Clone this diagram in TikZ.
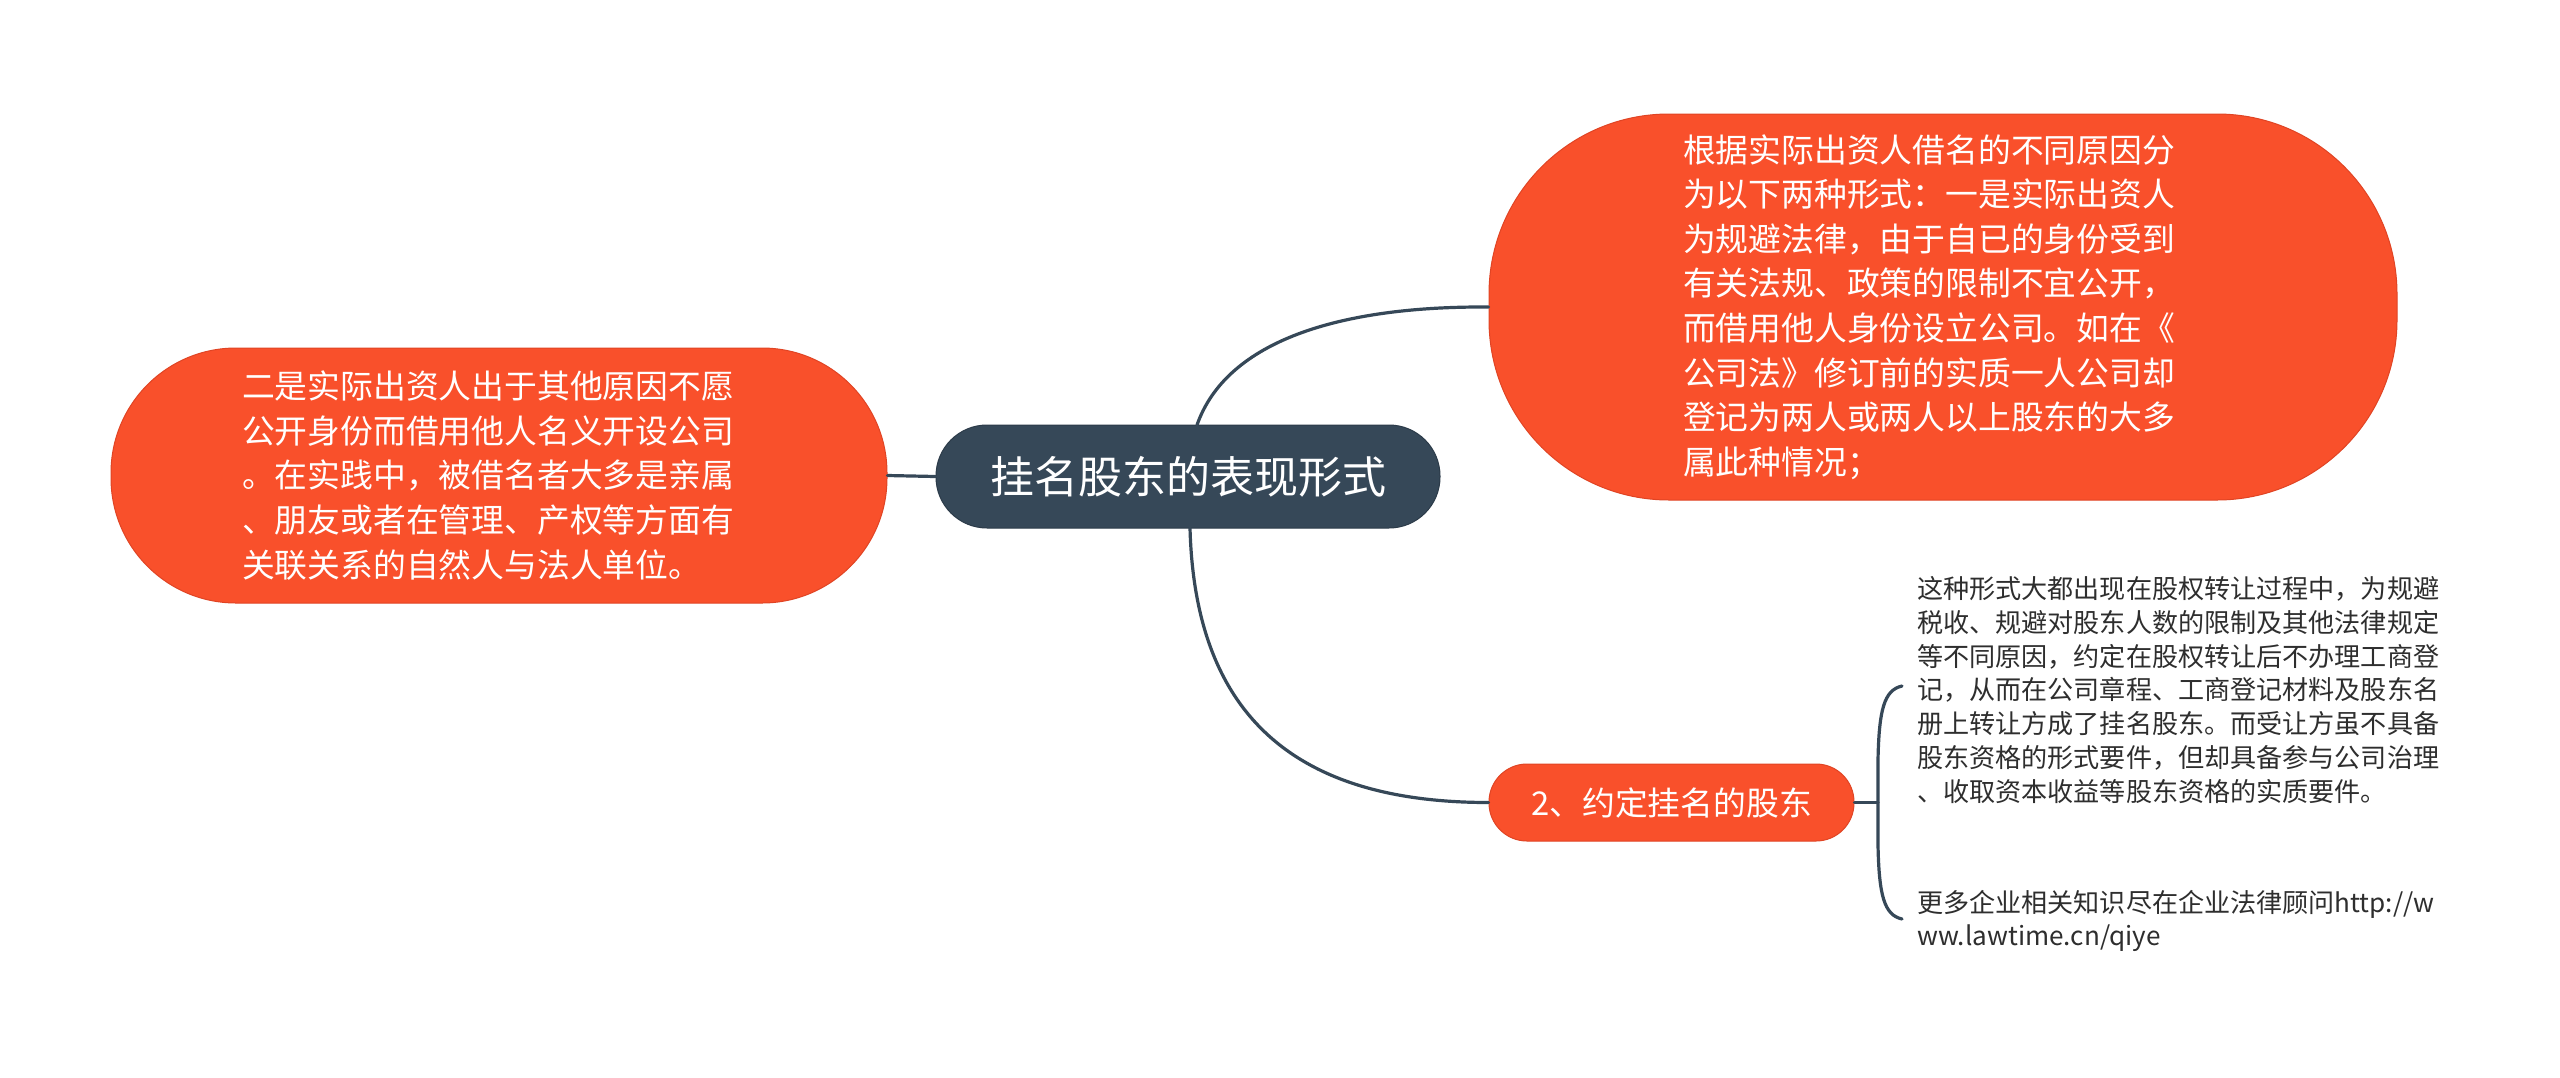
\documentclass[tikz,border=0pt]{standalone}
\usepackage{fontspec}
\newfontfamily\cjk{Noto Sans CJK SC}
\definecolor{orangefill}{HTML}{F9502B}
\definecolor{orangeedge}{HTML}{E04424}
\definecolor{slate}{HTML}{364858}
\definecolor{slateedge}{HTML}{2C3B49}
\definecolor{bodytext}{HTML}{2E2E2E}
\begin{document}
\begin{tikzpicture}[x=1pt,y=-1pt,
  orangebox/.style={fill=orangefill, draw=orangeedge, line width=1pt, text=white, inner sep=0pt, align=left},
  rootbox/.style={fill=slate, draw=slateedge, line width=1pt, text=white, inner sep=0pt},
  bigtext/.style={font=\cjk\fontsize{32.8pt}{44.6pt}\selectfont},
  smalltext/.style={font=\cjk\fontsize{26.1pt}{33.8pt}\selectfont, text=bodytext, inner sep=0pt, align=left, anchor=west},
  link/.style={draw=slate, line width=3.2pt, line cap=round}]
\useasboundingbox[fill=white] (0,0) rectangle (2560,1077);

\node[rootbox, minimum width=504pt, minimum height=103pt, rounded corners=51pt,
      font=\cjk\fontsize{44pt}{50pt}\selectfont] (root) at (1188,476.5) {挂名股东的表现形式};

\node[orangebox, bigtext, minimum width=776pt, minimum height=255pt, rounded corners=125pt,
      text width=514pt] (left) at (499,475.5)
  {二是实际出资人出于其他原因不愿\\公开身份而借用他人名义开设公司\\。在实践中，被借名者大多是亲属\\、朋友或者在管理、产权等方面有\\关联关系的自然人与法人单位。};

\node[orangebox, bigtext, minimum width=908pt, minimum height=386pt, rounded corners=180pt,
      text width=520pt] (right) at (1943,307)
  {根据实际出资人借名的不同原因分\\为以下两种形式：一是实际出资人\\为规避法律，由于自已的身份受到\\有关法规、政策的限制不宜公开，\\而借用他人身份设立公司。如在《\\公司法》修订前的实质一人公司却\\登记为两人或两人以上股东的大多\\属此种情况；};

\node[orangebox, bigtext, minimum width=365pt, minimum height=77pt, rounded corners=38pt,
      align=center] (second) at (1671.5,802.5) {2、约定挂名的股东};

\node[smalltext, text width=540pt] (detail) at (1917,690)
  {这种形式大都出现在股权转让过程中，为规避\\税收、规避对股东人数的限制及其他法律规定\\等不同原因，约定在股权转让后不办理工商登\\记，从而在公司章程、工商登记材料及股东名\\册上转让方成了挂名股东。而受让方虽不具备\\股东资格的形式要件，但却具备参与公司治理\\、收取资本收益等股东资格的实质要件。};

\node[smalltext, text width=540pt] (more) at (1917,921)
  {更多企业相关知识尽在企业法律顾问http://w\\ww.lawtime.cn/qiye};

\coordinate (topstart) at (1197,425);
\coordinate (botstart) at (1190,528);
\coordinate (brk) at (1878,802.5);
\coordinate (bt) at (1902,686);
\coordinate (bb) at (1902,919);

\draw[link] (left.east) -- (root.west);
\draw[link] (topstart) .. controls (1225,345) and (1330,306) .. (right.west);
\draw[link] (botstart) .. controls (1195,720) and (1300,802.5) .. (second.west);
\draw[link] (second.east) -- (brk);
\draw[link] (bt) .. controls (1884,690) and (1879,710) .. (1878,760) -- (1878,845)
  .. controls (1879,895) and (1884,915) .. (bb);
\end{tikzpicture}
\end{document}
